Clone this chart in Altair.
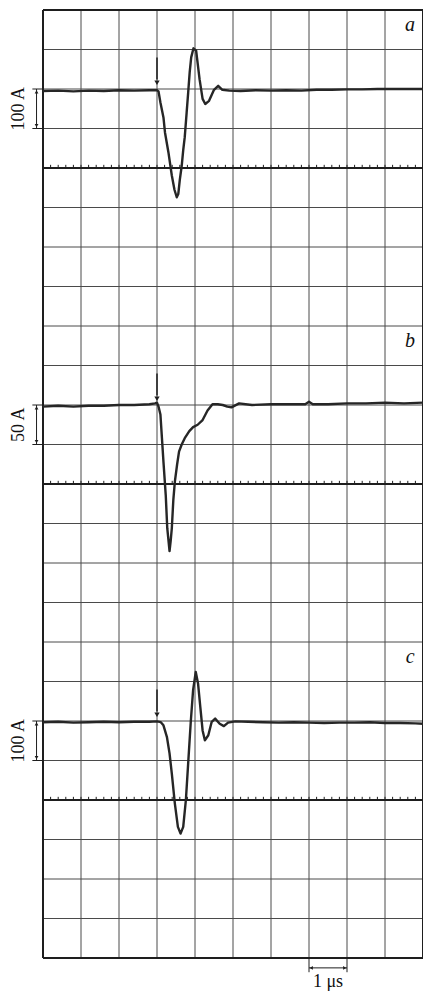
import altair as alt
import pandas as pd

# ---------------- data ----------------
T_MIN, T_MAX = -3, 7          # time, µs (1 µs per division)
N_ROWS = 24                   # vertical divisions of the whole screen

panels = ["a", "b", "c"]
panel_center = [20, 12, 4]    # division index of the thick centre line of each panel
baseline_offset = 2           # zero-current level, divisions above centre line
amps_per_div = [100, 50, 100]
scale_labels = ["100 A", "50 A", "100 A"]

# trace a (A vs µs)
t_a = [-3.0, -2.6, -2.2, -1.8, -1.4, -1.0, -0.6, -0.2, 0.0, 0.04, 0.09, 0.17, 0.21,
       0.30, 0.39, 0.46, 0.52, 0.56, 0.60, 0.65, 0.69, 0.73, 0.78, 0.82, 0.86, 0.90,
       0.96, 1.03, 1.12, 1.20, 1.27, 1.37, 1.50, 1.61, 1.72, 1.90, 2.2, 2.6, 3.0,
       3.4, 3.8, 4.2, 4.6, 5.0, 5.4, 5.8, 6.2, 6.6, 7.0]
i_a = [-5, -4, -6, -4, -5, -3, -4, -3, -3, -6, -34, -72, -110,
       -160, -219, -255, -274, -266, -230, -195, -155, -122, -60, -10, 42, 80,
       103, 97, 25, -25, -38, -30, -2, 8, -2, -4, -5, -3, -4,
       -3, -4, -2, -2, -1, -1, 0, 0, 0, 0]

# trace b
t_b = [-3.0, -2.6, -2.2, -1.8, -1.4, -1.0, -0.6, -0.2, -0.05, 0.0, 0.04, 0.09, 0.13,
       0.17, 0.23, 0.27, 0.33, 0.36, 0.39, 0.43, 0.47, 0.53, 0.58, 0.65, 0.73, 0.85,
       0.95, 1.07, 1.20, 1.33, 1.46, 1.60, 1.73, 1.85, 1.96, 2.16, 2.5, 3.0, 3.5,
       3.9, 4.0, 4.1, 4.5, 5.0, 5.5, 6.0, 6.5, 7.0]
i_b = [-2, -1, -2, -1, -1, 0, 0, 1, 2, 3, -2, -12, -42,
       -72, -114, -156, -185, -172, -156, -120, -97, -75, -59, -50, -42, -33,
       -28, -25, -19, -7, 1, 1, 0, -2, -3, 2, 0, 1, 1,
       1, 4, 1, 1, 2, 2, 3, 2, 3]

# trace c
t_c = [-3.0, -2.6, -2.2, -1.8, -1.4, -1.0, -0.6, -0.2, 0.0, 0.10, 0.17, 0.26, 0.33,
       0.39, 0.47, 0.55, 0.62, 0.69, 0.76, 0.82, 0.89, 0.95, 1.02, 1.08, 1.14, 1.20,
       1.26, 1.35, 1.44, 1.53, 1.65, 1.76, 1.87, 2.06, 2.4, 2.8, 3.2, 3.6, 4.0,
       4.4, 4.8, 5.2, 5.6, 6.0, 6.4, 6.8, 7.0]
i_c = [-3, -2, -4, -3, -2, -3, -2, -2, -1, -3, -11, -40, -82,
       -133, -209, -268, -285, -268, -200, -108, 0, 78, 124, 95, 35, -24,
       -49, -36, -2, 6, -7, -13, -4, -1, -2, -3, -4, -3, -4,
       -5, -4, -4, -3, -5, -5, -6, -7]

traces = {"a": (t_a, i_a), "b": (t_b, i_b), "c": (t_c, i_c)}
scale_bar_us = [4, 5]         # the "1 µs" marker spans this division
scale_bar_label = "1 μs"

# ---------------- tables ----------------
rows = []
for p, c, s in zip(panels, panel_center, amps_per_div):
    t, cur = traces[p]
    base = c + baseline_offset
    for tt, ii in zip(t, cur):
        rows.append({"panel": p, "t": tt, "y": base + ii / s})
sig = pd.DataFrame(rows)

grid_v = pd.DataFrame({"x": list(range(T_MIN + 1, T_MAX))})
border_v = pd.DataFrame({"x": [T_MIN, T_MAX]})
grid_h = pd.DataFrame({"y": [r for r in range(1, N_ROWS) if r not in panel_center]})
thick_h = pd.DataFrame({"y": panel_center + [0, N_ROWS]})
minor = pd.DataFrame([{"x": T_MIN + 0.2 * k, "y": c, "y2": c + 0.08}
                      for c in panel_center for k in range(1, 50)])

bases = [c + baseline_offset for c in panel_center]
trig = pd.DataFrame({"x": [0] * 3, "y": [b + 0.8 for b in bases], "y2": [b + 0.24 for b in bases]})
trig_head = pd.DataFrame({"x": [0] * 3, "y": [b + 0.16 for b in bases]})

brk_x = T_MIN - 0.17
bracket = pd.DataFrame({"x": [brk_x] * 3, "y": bases, "y2": [b - 1 for b in bases]})
bracket_up = pd.DataFrame({"x": [brk_x] * 3, "y": [b - 0.07 for b in bases]})
bracket_dn = pd.DataFrame({"x": [brk_x] * 3, "y": [b - 0.93 for b in bases]})
bracket_ends = pd.DataFrame({"x": [T_MIN - 0.28] * 6, "x2": [T_MIN] * 6,
                             "y": bases + [b - 1 for b in bases]})
labels = pd.DataFrame({"x": [T_MIN - 0.62] * 3, "y": [b - 0.5 for b in bases],
                       "text": scale_labels})
letters = pd.DataFrame({"x": [6.66] * 3, "y": [c + 4 - 0.52 for c in panel_center],
                        "text": panels})

sb_ticks = pd.DataFrame({"x": scale_bar_us, "y": [0, 0], "y2": [-0.36, -0.36]})
sb_line = pd.DataFrame({"x": [scale_bar_us[0]], "x2": [scale_bar_us[1]], "y": [-0.25]})
sb_left = pd.DataFrame({"x": [scale_bar_us[0] + 0.06], "y": [-0.25]})
sb_right = pd.DataFrame({"x": [scale_bar_us[1] - 0.06], "y": [-0.25]})
sb_text = pd.DataFrame({"x": [sum(scale_bar_us) / 2], "y": [-0.74], "text": [scale_bar_label]})

# ---------------- chart ----------------
XS = alt.Scale(domain=[T_MIN, T_MAX], nice=False, zero=False)
YS = alt.Scale(domain=[0, N_ROWS], nice=False, zero=False)
X = lambda f="x": alt.X(f"{f}:Q", scale=XS, axis=None)
Y = lambda f="y": alt.Y(f"{f}:Q", scale=YS, axis=None)
INK = "#1e1e1e"
GRID = "#4a4a4a"
SERIF = "Liberation Serif"

layers = [
    alt.Chart(grid_v).mark_rule(color=GRID, strokeWidth=1).encode(x=X()),
    alt.Chart(grid_h).mark_rule(color=GRID, strokeWidth=1).encode(y=Y()),
    alt.Chart(minor).mark_rule(color=INK, strokeWidth=1).encode(x=X(), y=Y(), y2="y2:Q"),
    alt.Chart(thick_h).mark_rule(color=INK, strokeWidth=2).encode(y=Y()),
    alt.Chart(border_v).mark_rule(color=INK, strokeWidth=2).encode(x=X()),
    alt.Chart(sig).mark_line(color="#262626", strokeWidth=2.4, strokeJoin="round").encode(
        x=alt.X("t:Q", scale=XS, axis=None), y=Y(), detail="panel:N"),
    alt.Chart(trig).mark_rule(color=INK, strokeWidth=1.5).encode(x=X(), y=Y(), y2="y2:Q"),
    alt.Chart(trig_head).mark_point(shape="triangle-down", filled=True, color=INK,
                                    size=28, opacity=1).encode(x=X(), y=Y()),
    alt.Chart(bracket).mark_rule(color=INK, strokeWidth=1).encode(x=X(), y=Y(), y2="y2:Q"),
    alt.Chart(bracket_up).mark_point(shape="triangle-up", filled=True, color=INK,
                                     size=14, opacity=1).encode(x=X(), y=Y()),
    alt.Chart(bracket_dn).mark_point(shape="triangle-down", filled=True, color=INK,
                                     size=14, opacity=1).encode(x=X(), y=Y()),
    alt.Chart(bracket_ends).mark_rule(color=INK, strokeWidth=1).encode(x=X(), x2="x2:Q", y=Y()),
    alt.Chart(labels).mark_text(font=SERIF, fontSize=18, angle=270, align="center",
                                baseline="middle", color="#111").encode(x=X(), y=Y(), text="text:N"),
    alt.Chart(letters).mark_text(font=SERIF, fontSize=20, fontStyle="italic", align="center",
                                 baseline="alphabetic", color="#111").encode(x=X(), y=Y(), text="text:N"),
    alt.Chart(sb_ticks).mark_rule(color=INK, strokeWidth=1).encode(x=X(), y=Y(), y2="y2:Q"),
    alt.Chart(sb_line).mark_rule(color=INK, strokeWidth=1).encode(x=X(), x2="x2:Q", y=Y()),
    alt.Chart(sb_left).mark_point(shape="triangle-left", filled=True, color=INK,
                                  size=14, opacity=1).encode(x=X(), y=Y()),
    alt.Chart(sb_right).mark_point(shape="triangle-right", filled=True, color=INK,
                                   size=14, opacity=1).encode(x=X(), y=Y()),
    alt.Chart(sb_text).mark_text(font=SERIF, fontSize=18, align="center",
                                 baseline="alphabetic", color="#111").encode(x=X(), y=Y(), text="text:N"),
]

# total size 415 x 983 so the page neither rescales nor scrolls
chart = alt.layer(*layers).properties(
    width=380, height=948,
    padding={"left": 35, "top": 2, "right": 0, "bottom": 33},
    autosize=alt.AutoSizeParams(type="none"),
    background="white",
).configure_view(stroke=None)

chart.save("out.html", embed_options={"renderer": "svg", "actions": False})
